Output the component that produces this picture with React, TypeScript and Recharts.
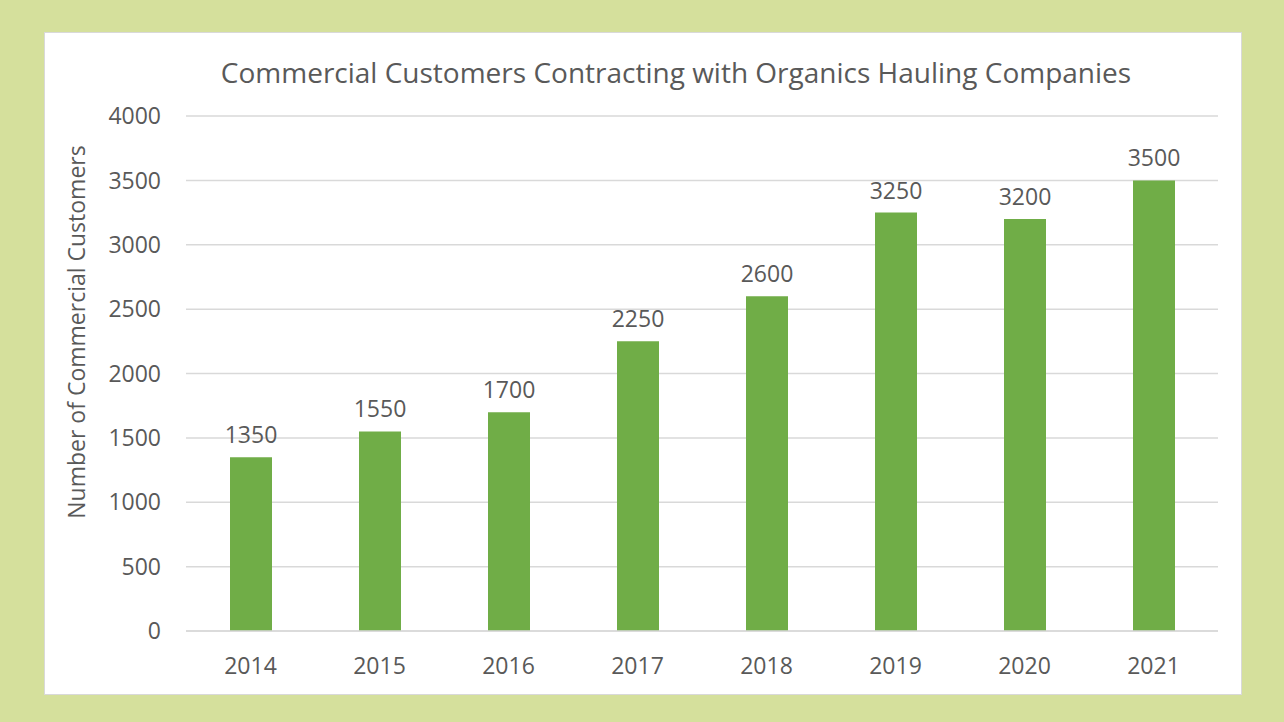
import React from "react";
import { BarChart, Bar, XAxis, YAxis, CartesianGrid, LabelList } from "recharts";

const years = ["2014", "2015", "2016", "2017", "2018", "2019", "2020", "2021"];
const customers = [1350, 1550, 1700, 2250, 2600, 3250, 3200, 3500];
const yTicks = [0, 500, 1000, 1500, 2000, 2500, 3000, 3500, 4000];

const data = years.map((year, i) => ({ year, customers: customers[i] }));

const FONT = "'Open Sans', 'Noto Sans', sans-serif";
const TEXT = "#595959";
const FS = 23;

export default function App() {
  return (
    <div
      style={{
        position: "absolute",
        left: 0,
        top: 0,
        width: 1284,
        height: 722,
        background: "#d5e09c",
        fontFamily: FONT,
      }}
    >
      <div
        style={{
          position: "absolute",
          left: 44,
          top: 32,
          width: 1196,
          height: 661,
          background: "#ffffff",
          border: "1px solid #d9d9d9",
        }}
      />
      <div
        style={{
          position: "absolute",
          left: 0,
          width: 1352,
          top: 53,
          textAlign: "center",
          fontSize: 28,
          color: TEXT,
          whiteSpace: "nowrap",
        }}
      >
        Commercial Customers Contracting with Organics Hauling Companies
      </div>
      <div
        style={{
          position: "absolute",
          left: 76 - 250,
          top: 332 - 15,
          width: 500,
          height: 30,
          lineHeight: "30px",
          textAlign: "center",
          fontSize: FS,
          color: TEXT,
          transform: "rotate(-90deg)",
          whiteSpace: "nowrap",
        }}
      >
        Number of Commercial Customers
      </div>
      <div style={{ position: "absolute", left: 0, top: 0 }}>
        <BarChart
          width={1284}
          height={722}
          data={data}
          margin={{ top: 116, right: 66, bottom: 0, left: 106 }}
        >
          <CartesianGrid vertical={false} stroke="#d9d9d9" strokeWidth={1.5} />
          <XAxis
            dataKey="year"
            axisLine={{ stroke: "#d9d9d9", strokeWidth: 1.5 }}
            tickLine={false}
            tickSize={0}
            tickMargin={27}
            height={91}
            tick={{ fill: TEXT, fontSize: FS, fontFamily: FONT }}
          />
          <YAxis
            width={80}
            domain={[0, 4000]}
            ticks={yTicks}
            axisLine={false}
            tickLine={false}
            tickSize={0}
            tickMargin={25}
            tick={{ fill: TEXT, fontSize: FS, fontFamily: FONT }}
          />
          <Bar dataKey="customers" fill="#70ad47" barSize={42} isAnimationActive={false}>
            <LabelList
              dataKey="customers"
              position="top"
              offset={14}
              fill={TEXT}
              fontSize={FS}
              fontFamily={FONT}
            />
          </Bar>
        </BarChart>
      </div>
    </div>
  );
}
